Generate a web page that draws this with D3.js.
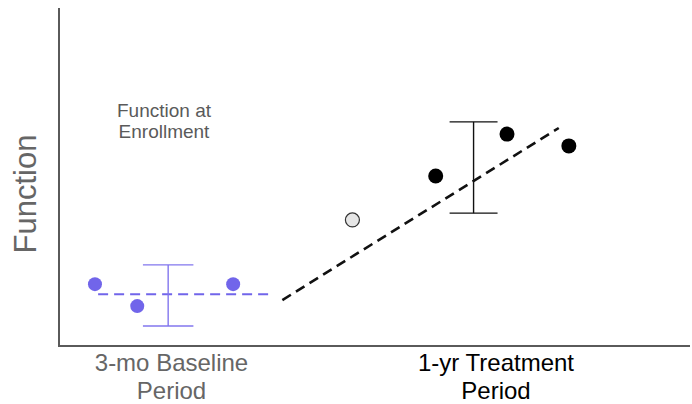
<!DOCTYPE html>
<html><head><meta charset="utf-8">
<script src="https://cdn.jsdelivr.net/npm/d3@7"></script>
<style>body{margin:0;background:#fff}svg{display:block}</style>
</head><body>
<script>
// Data (conceptual units: x = time 0-100, y = function 0-100)
const baselinePoints = [{x:5.7,y:18.3},{x:12.4,y:11.8},{x:27.6,y:18.3}];
const baselineMean = [{x:6.2,y:15.3},{x:33.7,y:15.3}];
const baselineErr = {x:17.3, lo:5.9, hi:24.0, cap:4};
const enrollPoint = [{x:46.5,y:37.3}];
const treatPoints = [{x:59.7,y:50.3},{x:71.0,y:62.7},{x:80.8,y:59.2}];
const treatTrend = [{x:35.4,y:13.6},{x:79.2,y:64.5}];
const treatErr = {x:65.7, lo:39.3, hi:66.3, cap:3.8};
const periodLabels = [["3-mo Baseline","Period"],["1-yr Treatment","Period"]];
const yLabel = "Function";
const noteLines = ["Function at","Enrollment"];

const W=692,H=404;
const svg=d3.select("body").append("svg").attr("width",W).attr("height",H);
const x=d3.scaleLinear().domain([0,100]).range([59,690]);
const y=d3.scaleLinear().domain([0,100]).range([346,8]);
const line=d3.line().x(d=>x(d.x)).y(d=>y(d.y));

// axes
svg.append("path").attr("d",`M${x(0)},${y(100)}V${y(0)}H${x(100)}`)
  .attr("fill","none").attr("stroke","#5a5a5a").attr("stroke-width",2);

const blue="#7165ea";
svg.append("path").attr("d",line(baselineMean)).attr("stroke",blue).attr("stroke-width",2)
  .attr("stroke-dasharray","10,6").attr("fill","none");
function errBar(e,color,w){
  const g=svg.append("g").attr("stroke",color).attr("stroke-width",w).attr("fill","none");
  g.append("line").attr("x1",x(e.x)).attr("x2",x(e.x)).attr("y1",y(e.lo)).attr("y2",y(e.hi));
  g.append("line").attr("x1",x(e.x-e.cap)).attr("x2",x(e.x+e.cap)).attr("y1",y(e.lo)).attr("y2",y(e.lo));
  g.append("line").attr("x1",x(e.x-e.cap)).attr("x2",x(e.x+e.cap)).attr("y1",y(e.hi)).attr("y2",y(e.hi));
}
errBar(baselineErr,"#8276ee",1.4);
svg.selectAll(".bp").data(baselinePoints).join("circle").attr("class","bp")
  .attr("cx",d=>x(d.x)).attr("cy",d=>y(d.y)).attr("r",7).attr("fill",blue);

svg.append("path").attr("d",line(treatTrend)).attr("stroke","#111").attr("stroke-width",2.6)
  .attr("stroke-dasharray","10,6").attr("fill","none");
errBar(treatErr,"#111",1.4);
svg.selectAll(".ep").data(enrollPoint).join("circle").attr("class","ep")
  .attr("cx",d=>x(d.x)).attr("cy",d=>y(d.y)).attr("r",7).attr("fill","#e6e6e6")
  .attr("stroke","#333").attr("stroke-width",1.2);
svg.selectAll(".tp").data(treatPoints).join("circle").attr("class","tp")
  .attr("cx",d=>x(d.x)).attr("cy",d=>y(d.y)).attr("r",7.5).attr("fill","#000");

// texts
const ff="'Liberation Sans', Arial, Helvetica, sans-serif";
svg.append("text").attr("transform","translate(36,194) rotate(-90)").attr("text-anchor","middle")
  .attr("font-family",ff).attr("font-size",31).attr("fill","#666").text(yLabel);
svg.append("text").attr("x",164).attr("y",116.5).attr("text-anchor","middle")
  .attr("font-family",ff).attr("font-size",19).attr("fill","#5a5a5a")
  .selectAll("tspan").data(noteLines).join("tspan").attr("x",164).attr("dy",(d,i)=>i?21.5:0).text(d=>d);
const labelX=[171.5,496], labelC=["#666","#000"];
periodLabels.forEach((lines,k)=>{
  svg.append("text").attr("x",labelX[k]).attr("y",370.5).attr("text-anchor","middle")
    .attr("font-family",ff).attr("font-size",24).attr("fill",labelC[k])
    .selectAll("tspan").data(lines).join("tspan").attr("x",labelX[k]).attr("dy",(d,i)=>i?28:0).text(d=>d);
});
</script>
</body></html>
